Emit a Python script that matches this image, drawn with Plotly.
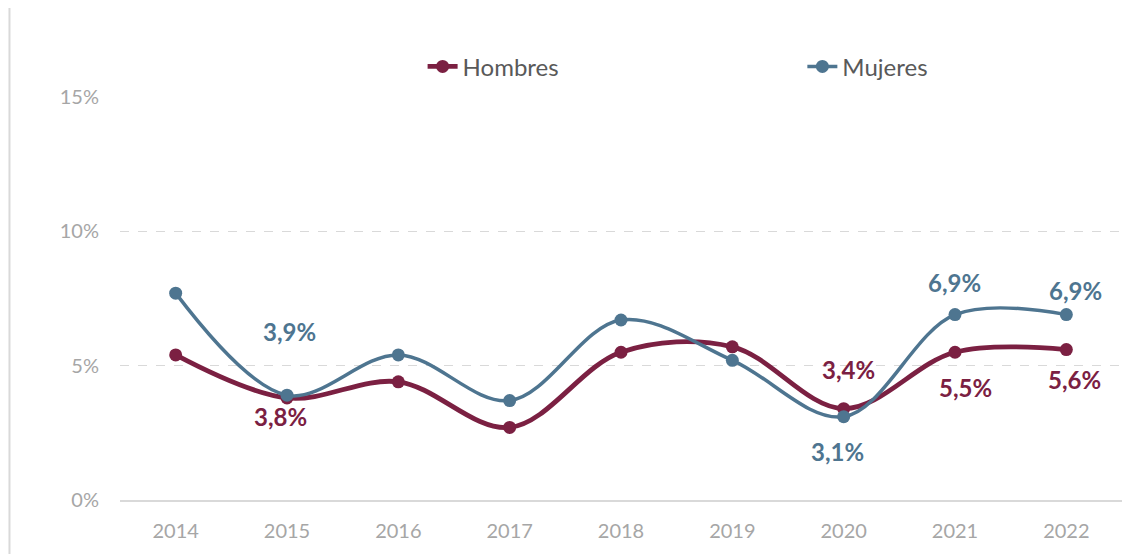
import plotly.graph_objects as go

years = ["2014", "2015", "2016", "2017", "2018", "2019", "2020", "2021", "2022"]
hombres = [5.4, 3.8, 4.4, 2.7, 5.5, 5.7, 3.4, 5.5, 5.6]
mujeres = [7.7, 3.9, 5.4, 3.7, 6.7, 5.2, 3.1, 6.9, 6.9]
y_ticks = [0, 5, 10, 15]
y_tick_labels = ["0%", "5%", "10%", "15%"]

# which points carry a data label (by year)
hombres_labeled = ["2015", "2020", "2021", "2022"]
mujeres_labeled = ["2015", "2020", "2021", "2022"]

C_H = "#7B2042"
C_M = "#4E7590"
FONT = "Lato"

# label offsets in pixels (xshift, yshift) - style only
h_off = {"2015": (-7, -19), "2020": (5, 39), "2021": (10, -35), "2022": (8, -30)}
m_off = {"2015": (2, 64), "2020": (-6, -35), "2021": (-1, 32), "2022": (9, 24)}

fig = go.Figure()
fig.add_trace(go.Scatter(
    x=years, y=hombres, name="Hombres", mode="lines+markers",
    line=dict(color=C_H, width=4.8, shape="spline", smoothing=1),
    marker=dict(color=C_H, size=13), legend="legend",
))
fig.add_trace(go.Scatter(
    x=years, y=mujeres, name="Mujeres", mode="lines+markers",
    line=dict(color=C_M, width=3.5, shape="spline", smoothing=1),
    marker=dict(color=C_M, size=13), legend="legend2",
))

def fmt(v):
    return f"{v:.1f}".replace(".", ",") + "%"

for i, (yr, v) in enumerate(zip(years, hombres)):
    if yr in hombres_labeled:
        xs, ys = h_off[yr]
        fig.add_annotation(x=i, y=v, text=fmt(v), showarrow=False,
                           xshift=xs, yshift=ys,
                           font=dict(family=FONT, size=24, color=C_H, weight="bold"))
for i, (yr, v) in enumerate(zip(years, mujeres)):
    if yr in mujeres_labeled:
        xs, ys = m_off[yr]
        fig.add_annotation(x=i, y=v, text=fmt(v), showarrow=False,
                           xshift=xs, yshift=ys,
                           font=dict(family=FONT, size=24, color=C_M, weight="bold"))

# left border of the chart frame
fig.add_shape(type="line", xref="paper", yref="paper",
              x0=-0.1103, x1=-0.1103, y0=-0.2, y1=1.3,
              line=dict(color="#D9D9D9", width=2))

leg_common = dict(orientation="h", yanchor="middle", y=1.075, xanchor="left",
                  font=dict(family=FONT, size=24, color="#595959"),
                  bgcolor="rgba(0,0,0,0)")

fig.update_layout(
    width=1125, height=546,
    margin=dict(l=112, r=11, t=89, b=54),
    paper_bgcolor="white", plot_bgcolor="white",
    font=dict(family=FONT, color="#595959"),
    showlegend=True,
    legend=dict(x=0.302, **leg_common),
    legend2=dict(x=0.681, **leg_common),
    xaxis=dict(type="category", range=[-0.5, len(years) - 0.5],
               showgrid=False, showline=True, linecolor="#D9D9D9",
               linewidth=2, ticks="", tickfont=dict(family=FONT, size=20, color="#A6A6A6"),
               ticklabelstandoff=12, zeroline=False),
    yaxis=dict(range=[0, 15], tickvals=y_ticks, ticktext=y_tick_labels,
               showgrid=True, gridcolor="#D9D9D9", griddash="dash", gridwidth=1.3,
               zeroline=False, showline=False, ticks="",
               tickfont=dict(family=FONT, size=20, color="#A6A6A6"),
               ticklabelstandoff=20),
)

fig.write_html("out.html")
